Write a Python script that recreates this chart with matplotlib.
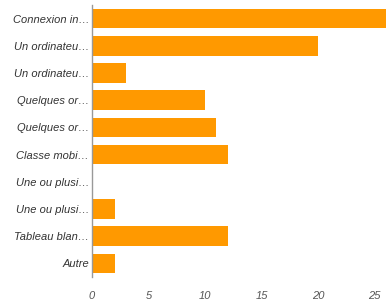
import matplotlib.pyplot as plt

categories = ['Connexion in…', 'Un ordinateu…', 'Un ordinateu…', 'Quelques or…',
              'Quelques or…', 'Classe mobi…', 'Une ou plusi…', 'Une ou plusi…',
              'Tableau blan…', 'Autre']
values = [26, 20, 3, 10, 11, 12, 0, 2, 12, 2]
xticks = [0, 5, 10, 15, 20, 25]

plt.rcParams['font.family'] = ['Liberation Sans', 'DejaVu Sans']

fig = plt.figure(figsize=(3.86, 3.02), dpi=100)
ax = fig.add_axes([92 / 386, 1 - 277 / 302, 1 - 92 / 386, 272 / 302])

ypos = range(len(categories))
ax.barh(ypos, values, height=0.72, color='#ff9900')
ax.set_ylim(len(categories) - 0.5, -0.5)
ax.set_xlim(0, 26)

ax.set_yticks(list(ypos))
ax.set_yticklabels(categories, fontsize=8, fontstyle='italic', color='#333333')
ax.set_xticks(xticks)
ax.set_xticklabels([str(t) for t in xticks], fontsize=8, fontstyle='italic', color='#555555')
ax.tick_params(axis='both', length=0)
ax.tick_params(axis='x', pad=10)
ax.tick_params(axis='y', pad=2)

for s in ['top', 'right', 'bottom']:
    ax.spines[s].set_visible(False)
ax.spines['left'].set_color('#999999')
ax.spines['left'].set_linewidth(1)

fig.savefig('out.png', dpi=100)
